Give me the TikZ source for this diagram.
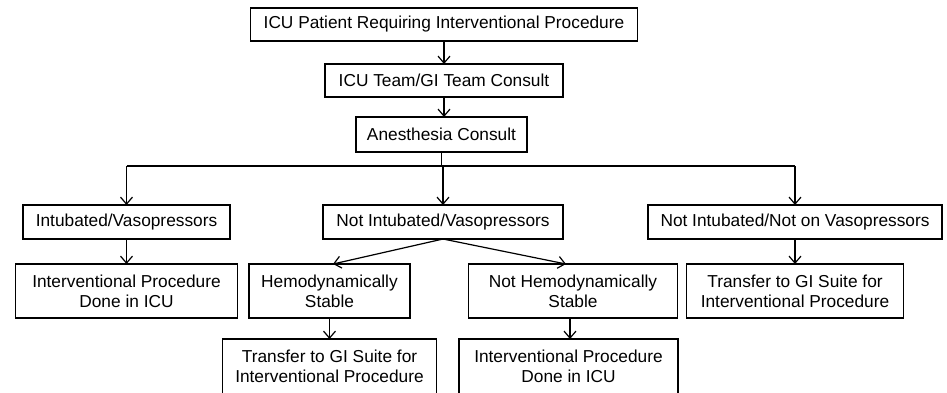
\documentclass[tikz,border=0pt]{standalone}
\usepackage{fontspec}
\setmainfont{Liberation Sans}
\usetikzlibrary{positioning,arrows.meta}

\tikzset{
  box/.style={draw, line width=1.2pt, align=center, inner xsep=10pt, inner ysep=0pt,
    outer sep=0pt, minimum height=33pt, font=\fontsize{17.3}{20}\selectfont},
  flow/.style={line width=1.2pt, -{Straight Barb[length=7pt,width=12pt]}},
  link/.style={line width=1.2pt}
}

\begin{document}
\begin{tikzpicture}
  \useasboundingbox (0,0) rectangle (947pt,-392pt);

  % Define nodes
  \node[box, minimum width=387pt] at (444pt,-24.5pt) (patient) {ICU Patient Requiring Interventional Procedure};
  \node[box, minimum width=238pt, below=23pt of patient]                (team) {ICU Team/GI Team Consult};
  \node[box, minimum width=171pt, minimum height=35pt, below=20pt of team, xshift=-2.5pt] (anes) {Anesthesia Consult};

  \node[box, minimum width=240pt, minimum height=34pt, below=53pt of anes, xshift=1.5pt] (notint) {Not Intubated/Vasopressors};
  \node[box, minimum width=207pt, minimum height=34pt, left=93pt of notint]  (intub) {Intubated/Vasopressors};
  \node[box, minimum width=294pt, minimum height=34pt, right=85pt of notint] (notnot) {Not Intubated/Not on Vasopressors};

  \node[box, minimum width=222pt, minimum height=54pt, below=25pt of intub] (iculeft) {Interventional Procedure\\Done in ICU};
  \node[box, minimum width=161pt, minimum height=54pt, below=25pt of notint, xshift=-113.5pt] (stable) {Hemodynamically\\Stable};
  \node[box, minimum width=209pt, minimum height=54pt, below=25pt of notint, xshift=130pt]   (unstable) {Not Hemodynamically\\Stable};
  \node[box, minimum width=217pt, minimum height=54pt, below=25pt of notnot] (giright) {Transfer to GI Suite for\\Interventional Procedure};

  \node[box, minimum width=214pt, minimum height=55pt, below=21pt of stable] (gimid) {Transfer to GI Suite for\\Interventional Procedure};
  \node[box, minimum width=219pt, minimum height=55pt, below=21pt of unstable, xshift=-4.5pt] (icumid) {Interventional Procedure\\Done in ICU};

  \coordinate[below=14pt of anes.south] (split);

  % Connect the nodes
  \draw[flow] (patient) -- (team);
  \draw[flow] (team) -- (anes.north -| team);
  \draw[link] (anes) -- (split);
  \draw[link] (intub.north |- split) -- (notnot.north |- split);
  \draw[flow] (intub.north |- split) -- (intub);
  \draw[flow] (notint.north |- split) -- (notint);
  \draw[flow] (notnot.north |- split) -- (notnot);

  \draw[flow] (intub) -- (iculeft);
  \draw[flow] (notint.south) -- ([xshift=3.5pt]stable.north);
  \draw[flow] (notint.south) -- ([xshift=-7pt]unstable.north);
  \draw[flow] (notnot) -- (giright);

  \draw[flow] (stable) -- (stable |- gimid.north);
  \draw[flow] ([xshift=-3pt]unstable.south) -- ([xshift=-3pt]unstable.south |- icumid.north);

\end{tikzpicture}
\end{document}
